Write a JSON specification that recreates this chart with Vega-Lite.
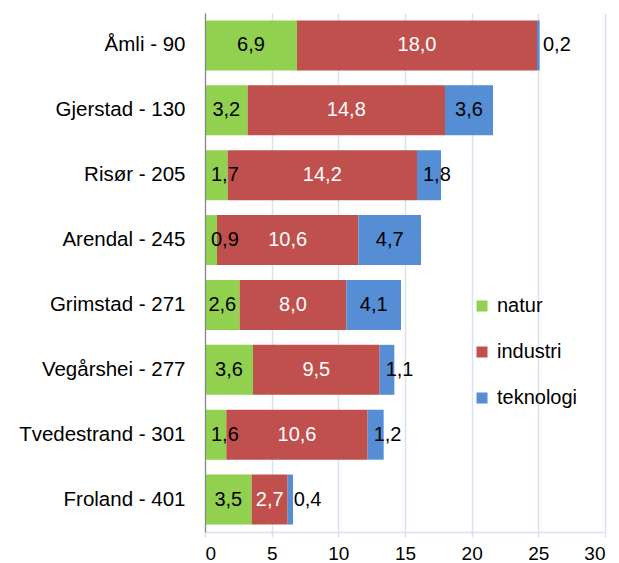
{
  "$schema": "https://vega.github.io/schema/vega-lite/v6.json",
  "autosize": {"type": "none"},
  "padding": {"left": 205, "top": 13, "right": 14, "bottom": 31},
  "width": 400,
  "height": 519,
  "background": "white",
  "config": {
    "font": "Liberation Sans",
    "view": {"stroke": null}
  },
  "data": {
    "values": [
      {"kommune": "Åmli - 90", "kategori": "natur", "ord": 1, "verdi": 6.9, "etikett": "6,9"},
      {"kommune": "Åmli - 90", "kategori": "industri", "ord": 2, "verdi": 18.0, "etikett": "18,0"},
      {"kommune": "Åmli - 90", "kategori": "teknologi", "ord": 3, "verdi": 0.2, "etikett": "0,2"},
      {"kommune": "Gjerstad - 130", "kategori": "natur", "ord": 1, "verdi": 3.2, "etikett": "3,2"},
      {"kommune": "Gjerstad - 130", "kategori": "industri", "ord": 2, "verdi": 14.8, "etikett": "14,8"},
      {"kommune": "Gjerstad - 130", "kategori": "teknologi", "ord": 3, "verdi": 3.6, "etikett": "3,6"},
      {"kommune": "Risør - 205", "kategori": "natur", "ord": 1, "verdi": 1.7, "etikett": "1,7"},
      {"kommune": "Risør - 205", "kategori": "industri", "ord": 2, "verdi": 14.2, "etikett": "14,2"},
      {"kommune": "Risør - 205", "kategori": "teknologi", "ord": 3, "verdi": 1.8, "etikett": "1,8"},
      {"kommune": "Arendal - 245", "kategori": "natur", "ord": 1, "verdi": 0.9, "etikett": "0,9"},
      {"kommune": "Arendal - 245", "kategori": "industri", "ord": 2, "verdi": 10.6, "etikett": "10,6"},
      {"kommune": "Arendal - 245", "kategori": "teknologi", "ord": 3, "verdi": 4.7, "etikett": "4,7"},
      {"kommune": "Grimstad - 271", "kategori": "natur", "ord": 1, "verdi": 2.6, "etikett": "2,6"},
      {"kommune": "Grimstad - 271", "kategori": "industri", "ord": 2, "verdi": 8.0, "etikett": "8,0"},
      {"kommune": "Grimstad - 271", "kategori": "teknologi", "ord": 3, "verdi": 4.1, "etikett": "4,1"},
      {"kommune": "Vegårshei - 277", "kategori": "natur", "ord": 1, "verdi": 3.6, "etikett": "3,6"},
      {"kommune": "Vegårshei - 277", "kategori": "industri", "ord": 2, "verdi": 9.5, "etikett": "9,5"},
      {"kommune": "Vegårshei - 277", "kategori": "teknologi", "ord": 3, "verdi": 1.1, "etikett": "1,1"},
      {"kommune": "Tvedestrand - 301", "kategori": "natur", "ord": 1, "verdi": 1.6, "etikett": "1,6"},
      {"kommune": "Tvedestrand - 301", "kategori": "industri", "ord": 2, "verdi": 10.6, "etikett": "10,6"},
      {"kommune": "Tvedestrand - 301", "kategori": "teknologi", "ord": 3, "verdi": 1.2, "etikett": "1,2"},
      {"kommune": "Froland - 401", "kategori": "natur", "ord": 1, "verdi": 3.5, "etikett": "3,5"},
      {"kommune": "Froland - 401", "kategori": "industri", "ord": 2, "verdi": 2.7, "etikett": "2,7"},
      {"kommune": "Froland - 401", "kategori": "teknologi", "ord": 3, "verdi": 0.4, "etikett": "0,4"}
    ]
  },
  "transform": [
    {"stack": "verdi", "groupby": ["kommune"], "sort": [{"field": "ord", "order": "ascending"}], "as": ["v0", "v1"]},
    {"calculate": "(datum.v0 + datum.v1) / 2", "as": "midt"}
  ],
  "encoding": {
    "y": {
      "field": "kommune",
      "type": "nominal",
      "sort": ["Åmli - 90", "Gjerstad - 130", "Risør - 205", "Arendal - 245", "Grimstad - 271", "Vegårshei - 277", "Tvedestrand - 301", "Froland - 401"],
      "scale": {"paddingInner": 0.23, "paddingOuter": 0.115},
      "axis": {
        "title": null,
        "ticks": false,
        "grid": false,
        "domainColor": "#868686",
        "domainWidth": 1.2,
        "labelFontSize": 20.5,
        "labelColor": "#000000",
        "labelPadding": 20,
        "zindex": 1
      }
    }
  },
  "layer": [
    {
      "mark": {"type": "bar"},
      "encoding": {
        "x": {
          "field": "v0",
          "type": "quantitative",
          "scale": {"domain": [0, 30], "nice": false},
          "axis": {
            "title": null,
            "values": [0, 5, 10, 15, 20, 25, 30],
            "grid": true,
            "gridColor": "#D9E2F3",
            "gridWidth": 1.5,
            "domainColor": "#D9E2F3",
            "domainWidth": 1.5,
            "tickColor": "#D9E2F3",
            "tickWidth": 1.5,
            "tickSize": 5,
            "labelFontSize": 19,
            "labelColor": "#000000",
            "labelPadding": 7
          }
        },
        "x2": {"field": "v1"},
        "color": {
          "field": "kategori",
          "type": "nominal",
          "sort": ["natur", "industri", "teknologi"],
          "scale": {"domain": ["natur", "industri", "teknologi"], "range": ["#92D050", "#C0504D", "#558ED5"]},
          "legend": {
            "title": null,
            "orient": "none",
            "legendX": 267,
            "legendY": 283,
            "symbolType": "square",
            "symbolSize": 121,
            "symbolStrokeWidth": 0,
            "labelFontSize": 20,
            "labelColor": "#000000",
            "labelOffset": 5,
            "rowPadding": 26,
            "padding": 0
          }
        }
      }
    },
    {
      "transform": [{"filter": "datum.verdi >= 2"}],
      "mark": {"type": "text", "fontSize": 20, "align": "center", "baseline": "middle"},
      "encoding": {
        "x": {"field": "midt", "type": "quantitative"},
        "text": {"field": "etikett"},
        "color": {
          "condition": {"test": "datum.kategori === 'industri'", "value": "#FFFFFF"},
          "value": "#000000"
        }
      }
    },
    {
      "transform": [{"filter": "datum.verdi < 2"}],
      "mark": {"type": "text", "fontSize": 20, "align": "left", "baseline": "middle", "dx": 6},
      "encoding": {
        "x": {"field": "v0", "type": "quantitative"},
        "text": {"field": "etikett"},
        "color": {"value": "#000000"}
      }
    }
  ]
}
